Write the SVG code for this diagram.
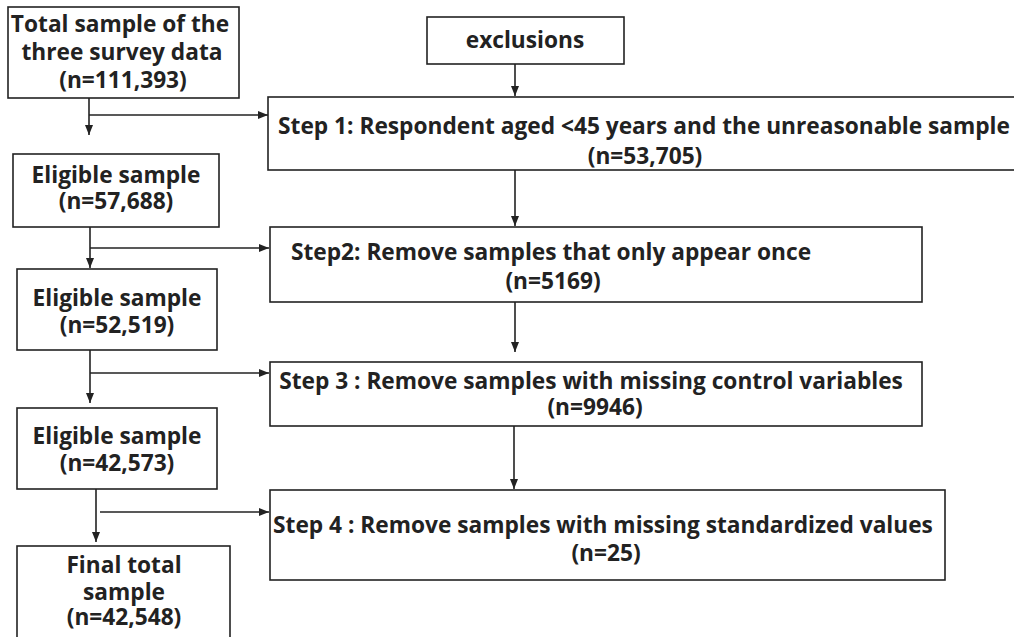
<svg xmlns="http://www.w3.org/2000/svg" width="1014" height="637" viewBox="0 0 1014 637">
<defs>
<style>
.box{fill:#fff;stroke:#222;stroke-width:1.6}
.t{font-family:"Open Sans","Noto Sans","Liberation Sans",sans-serif;font-weight:700;font-size:22.7px;fill:#222;text-anchor:middle}
.c{fill:none;stroke:#222;stroke-width:1.6}
</style>
<marker id="ah" viewBox="0 0 10 10" refX="10" refY="5" markerWidth="10" markerHeight="10" markerUnits="userSpaceOnUse" orient="auto">
<path d="M0,1 L10,5 L0,9 Z" fill="#222"/>
</marker>
</defs>
<rect width="1014" height="637" fill="#fff"/>

<g id="connectors">
<line class="c" x1="515" y1="64" x2="515" y2="96" marker-end="url(#ah)"/>
<line class="c" x1="89" y1="98" x2="89" y2="135" marker-end="url(#ah)"/>
<line class="c" x1="89" y1="115" x2="268" y2="115" marker-end="url(#ah)"/>
<line class="c" x1="515" y1="170" x2="515" y2="226" marker-end="url(#ah)"/>
<line class="c" x1="90" y1="227" x2="90" y2="268" marker-end="url(#ah)"/>
<line class="c" x1="90" y1="248" x2="269" y2="248" marker-end="url(#ah)"/>
<line class="c" x1="515" y1="302" x2="515" y2="352" marker-end="url(#ah)"/>
<line class="c" x1="90" y1="350" x2="90" y2="403" marker-end="url(#ah)"/>
<line class="c" x1="90" y1="373" x2="269" y2="373" marker-end="url(#ah)"/>
<line class="c" x1="514" y1="426" x2="514" y2="489" marker-end="url(#ah)"/>
<line class="c" x1="96" y1="489" x2="96" y2="542" marker-end="url(#ah)"/>
<line class="c" x1="100" y1="512" x2="269" y2="512" marker-end="url(#ah)"/>
</g>

<g id="total">
<rect class="box" x="8" y="7" width="231" height="91"/>
<text class="t" x="120" y="32">Total sample of the</text>
<text class="t" x="122" y="60">three survey data</text>
<text class="t" x="123" y="88">(n=111,393)</text>
</g>

<g id="exclusions">
<rect class="box" x="427" y="17" width="197" height="47"/>
<text class="t" x="525" y="48">exclusions</text>
</g>

<g id="step1">
<rect class="box" x="268" y="97" width="760" height="73"/>
<text class="t" x="644" y="134">Step 1: Respondent aged &lt;45 years and the unreasonable sample</text>
<text class="t" x="645" y="164">(n=53,705)</text>
</g>

<g id="eligible1">
<rect class="box" x="13" y="154" width="206" height="73"/>
<text class="t" x="116" y="183">Eligible sample</text>
<text class="t" x="116" y="209">(n=57,688)</text>
</g>

<g id="step2">
<rect class="box" x="270" y="227" width="652" height="75"/>
<text class="t" x="551" y="260">Step2: Remove samples that only appear once</text>
<text class="t" x="553" y="289">(n=5169)</text>
</g>

<g id="eligible2">
<rect class="box" x="17" y="269" width="200" height="81"/>
<text class="t" x="117" y="306">Eligible sample</text>
<text class="t" x="117" y="333">(n=52,519)</text>
</g>

<g id="step3">
<rect class="box" x="270" y="362" width="652" height="64"/>
<text class="t" x="591" y="389">Step 3 : Remove samples with missing control variables</text>
<text class="t" x="595" y="415">(n=9946)</text>
</g>

<g id="eligible3">
<rect class="box" x="17" y="408" width="200" height="81"/>
<text class="t" x="117" y="444">Eligible sample</text>
<text class="t" x="117" y="471">(n=42,573)</text>
</g>

<g id="step4">
<rect class="box" x="270" y="490" width="675" height="90"/>
<text class="t" x="603" y="533">Step 4 : Remove samples with missing standardized values</text>
<text class="t" x="606" y="561">(n=25)</text>
</g>

<g id="final">
<rect class="box" x="17" y="546" width="213" height="100"/>
<text class="t" x="124" y="573">Final total</text>
<text class="t" x="124" y="600">sample</text>
<text class="t" x="124" y="625">(n=42,548)</text>
</g>
</svg>
